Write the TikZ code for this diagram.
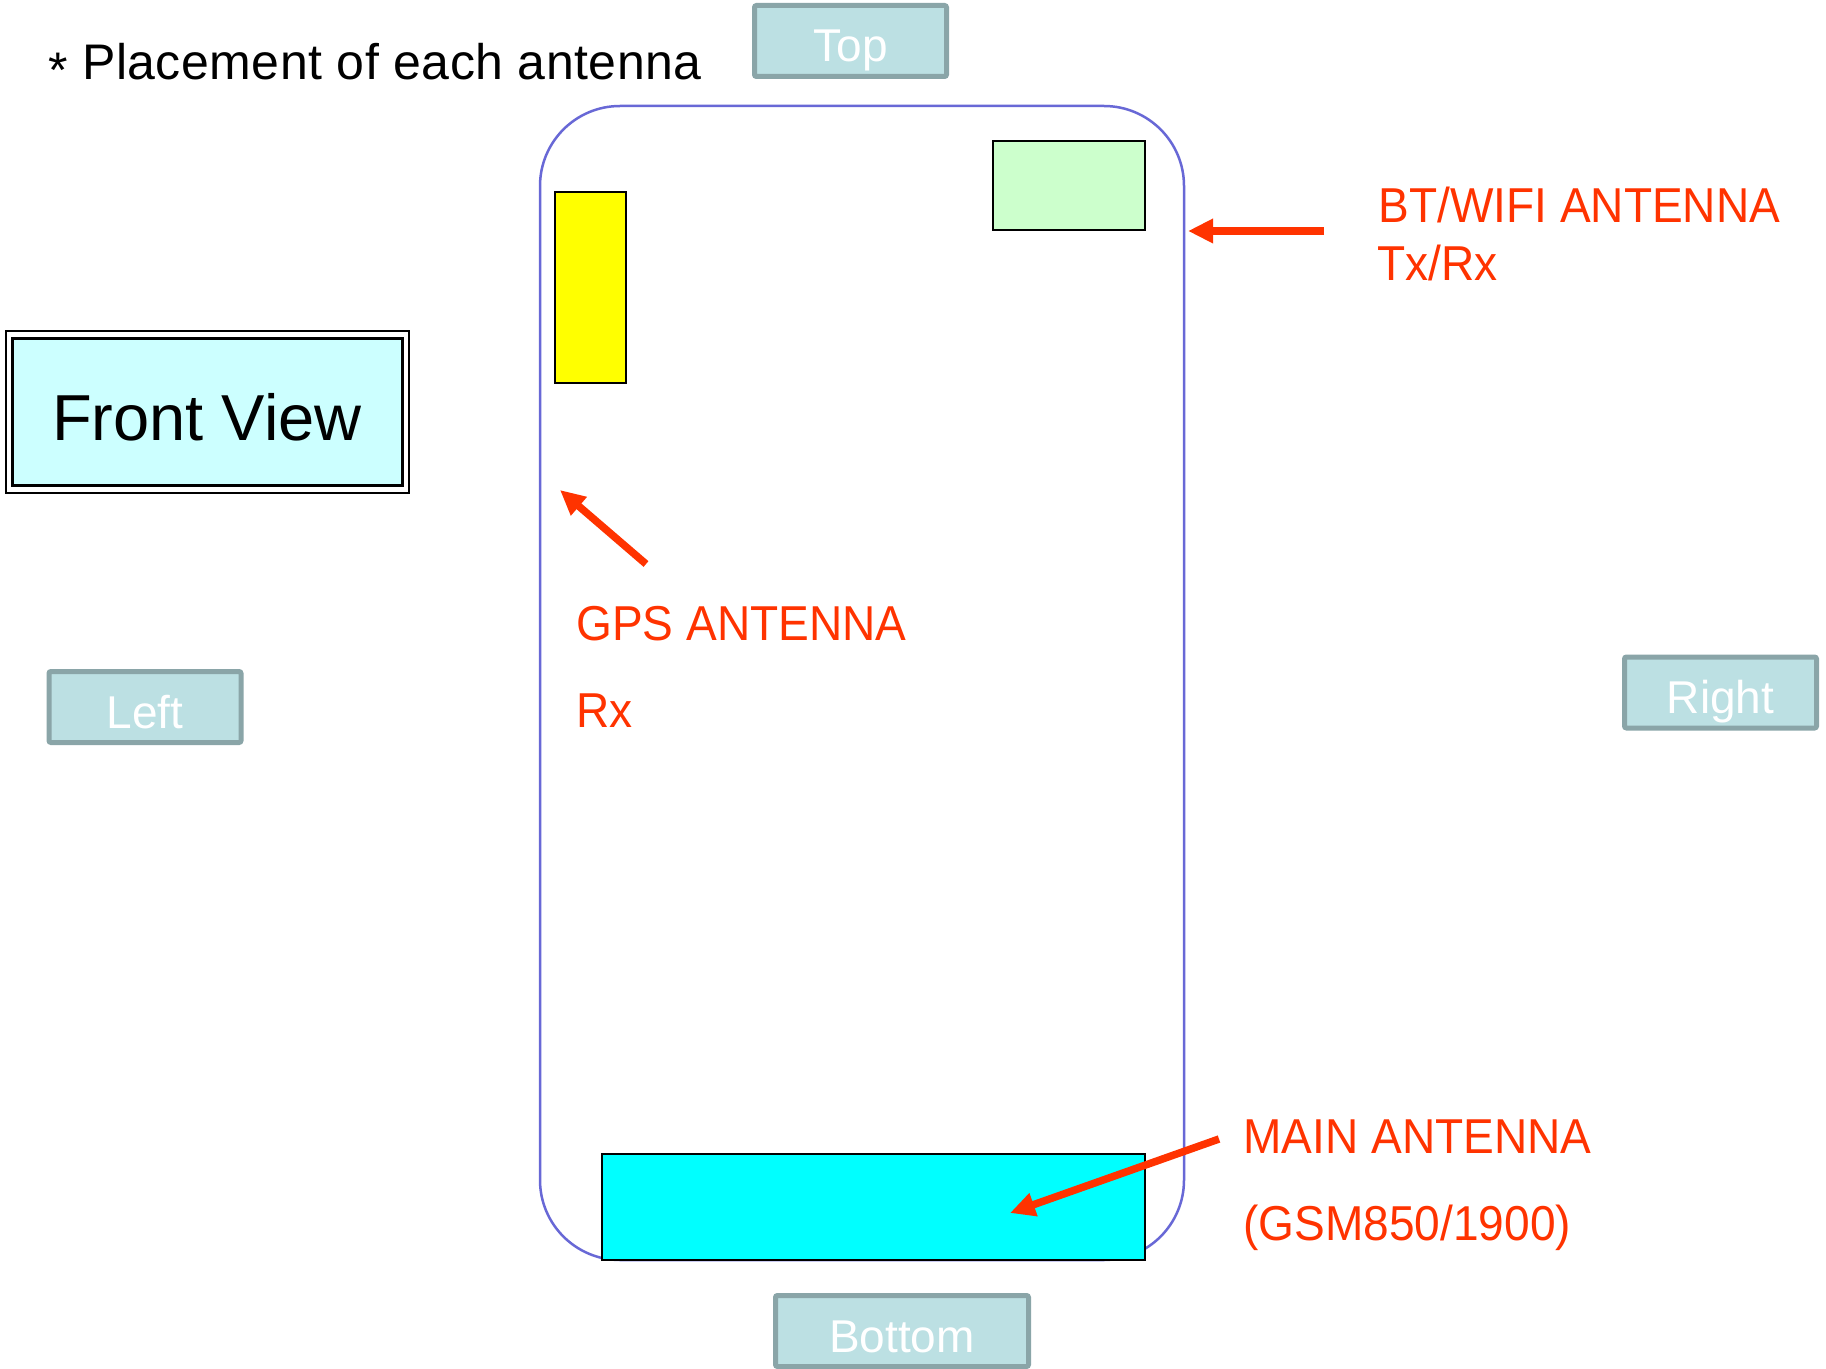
\documentclass[tikz,border=0pt]{standalone}
\usepackage{fontspec}
\setmainfont{Liberation Sans}
\newfontfamily\tagfont[FakeStretch=0.94]{Liberation Sans}
\newfontfamily\titlefont[LetterSpace=1]{Liberation Sans}
\usetikzlibrary{arrows.meta}
\definecolor{SideFill}{RGB}{188,224,227}
\definecolor{SideEdge}{RGB}{138,165,168}
\definecolor{CaseBlue}{RGB}{104,104,214}
\definecolor{TagRed}{RGB}{255,51,0}
\definecolor{FrontFill}{RGB}{204,255,255}
\definecolor{WifiGreen}{RGB}{204,255,204}
\definecolor{GpsYellow}{RGB}{255,255,0}
\definecolor{MainCyan}{RGB}{0,255,255}
\tikzset{
  side/.style={draw=SideEdge, line width=2.5pt, fill=SideFill, rounded corners=1pt, text=white,
               font=\fontsize{23pt}{27pt}\selectfont, minimum width=96pt, minimum height=35.5pt,
               text height=21pt, text depth=0pt, inner sep=0pt},
  ant/.style={draw, line width=1pt, inner sep=0pt},
  ptr/.style={-{Triangle[length=12.5pt, width=11.5pt]}, line width=3.75pt, TagRed},
  tag/.style={TagRed, font=\tagfont\fontsize{24.5pt}{29pt}\selectfont, anchor=base west, inner sep=0pt}
}

\begin{document}
\begin{tikzpicture}[x=0.5pt, y=-0.5pt]
\useasboundingbox[fill=white] (0,0) rectangle (1826,1369);
\node[anchor=base west, inner sep=0pt, font=\titlefont\fontsize{25pt}{30pt}\selectfont] (title) at (48,80)
  {\raisebox{-4pt}{*} Placement of each antenna};
% front view box, double frame
\node[draw, line width=1.5pt, fill=FrontFill, minimum width=195pt, minimum height=73.5pt,
      text height=28pt, text depth=0pt, inner sep=0pt, font=\fontsize{32.5pt}{39pt}\selectfont] (front) at (207,412.5) {Front View};
\draw[line width=1pt] ([shift={(-5,-6)}]front.north west) rectangle ([shift={(5,6)}]front.south east);
% phone case and antennas
\node[draw=CaseBlue, line width=1.25pt, rounded corners=40pt, minimum width=322pt, minimum height=577pt, inner sep=0pt] (case) at (862,683) {};
\node[ant, fill=GpsYellow, minimum width=35.5pt, minimum height=95.5pt] (gps) at (590.5,287.5) {};
\node[ant, fill=WifiGreen, minimum width=76pt, minimum height=44.5pt] (wifi) at (1069,185.5) {};
\node[ant, fill=MainCyan, minimum width=271.5pt, minimum height=53pt] (main) at (873.5,1207) {};
% sides
\node[side] (top) at (850.5,41) {Top};
\node[side] (left) at (145,707) {Left};
\node[side] (right) at (1720.5,692.5) {Right};
\node[side, minimum width=126.5pt] (bottom) at (902,1331) {Bottom};
% labels
\node[tag] (bt) at (1378,223) {BT/WIFI ANTENNA};
\node[tag] (btrx) at (1377,281) {Tx/Rx};
\node[tag] (gpstag) at (576,640) {GPS ANTENNA};
\node[tag] (gpsrx) at (576,727) {Rx};
\node[tag] (maintag) at (1243,1153) {MAIN ANTENNA};
\node[tag] (band) at (1243,1240) {(GSM850/1900)};
% pointers
\coordinate (btfrom) at (1324,231); \coordinate (btto) at (1188,231);
\coordinate (gpsfrom) at (646,564); \coordinate (gpsto) at (560,490);
\coordinate (mainfrom) at (1219,1139); \coordinate (mainto) at (1010,1213);
\draw[ptr] (btfrom) -- (btto); \draw[ptr] (gpsfrom) -- (gpsto); \draw[ptr] (mainfrom) -- (mainto);
\end{tikzpicture}
\end{document}
